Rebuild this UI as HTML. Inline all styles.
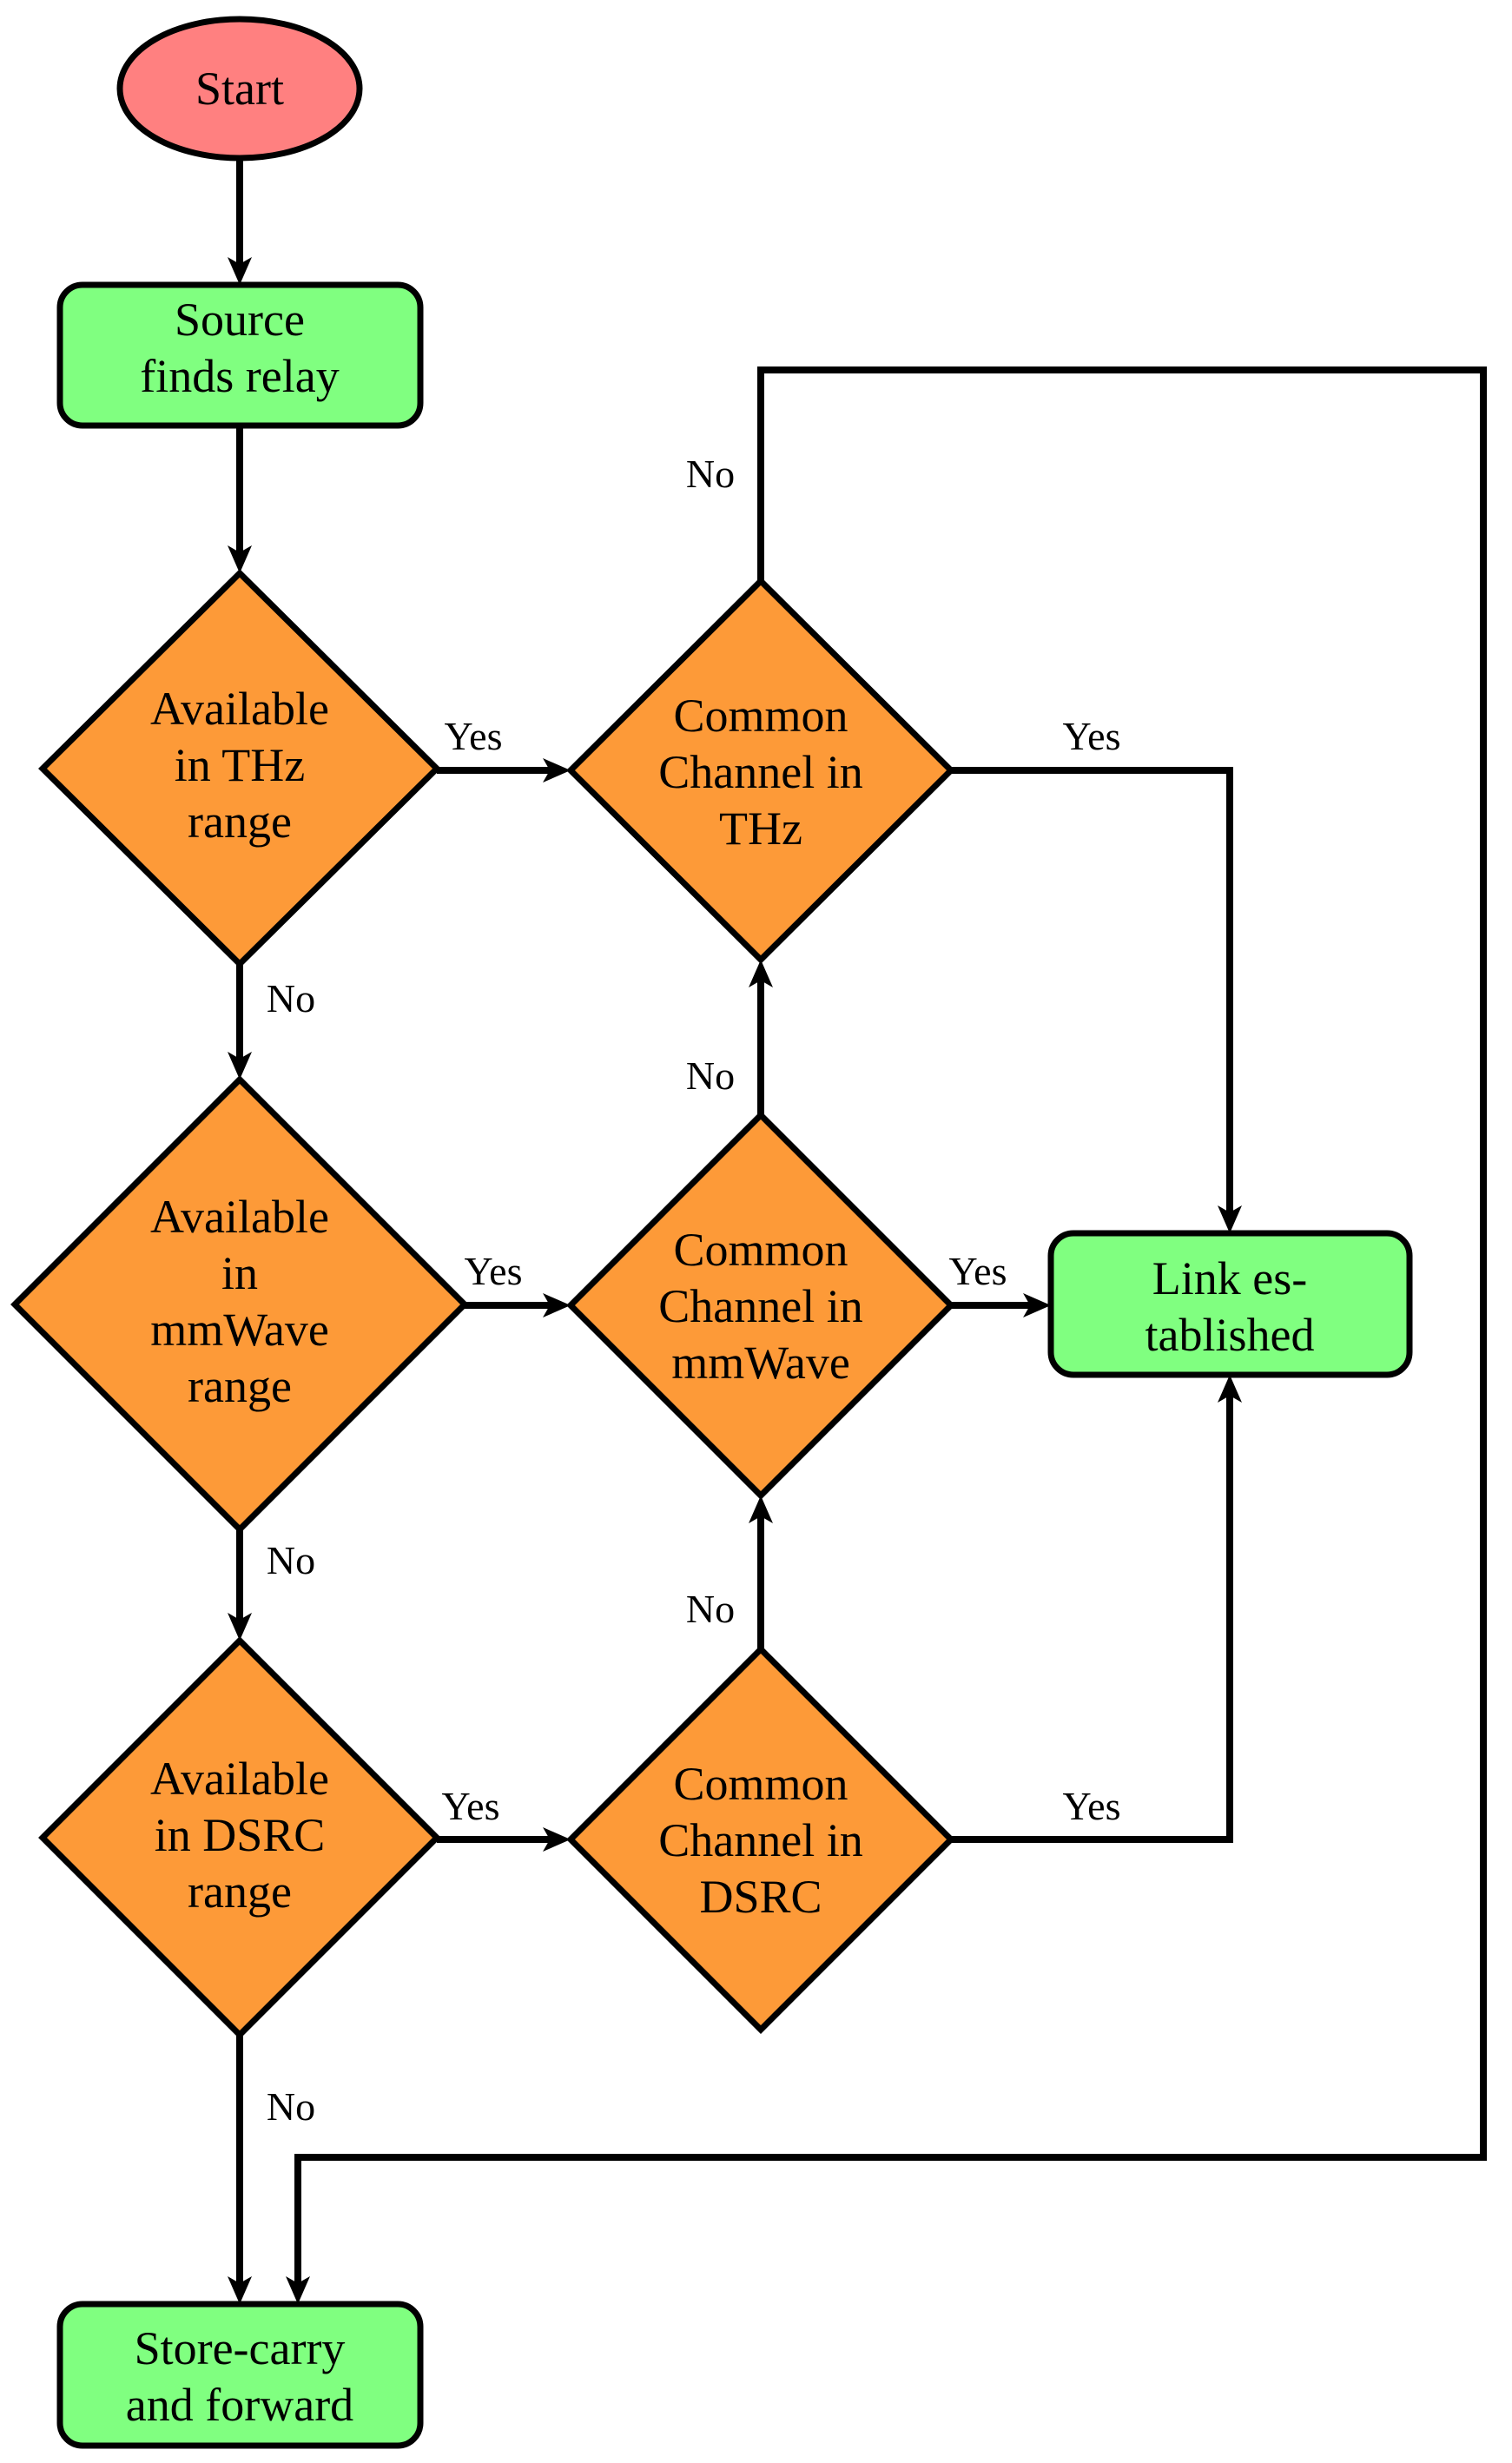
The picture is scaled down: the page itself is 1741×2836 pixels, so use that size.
<!DOCTYPE html>
<html><head><meta charset="utf-8"><style>
html,body{margin:0;padding:0;background:#fff;}
svg{display:block;}
text{font-family:"Liberation Serif",serif;fill:#000;}
.n{font-size:54px;text-anchor:middle;}
.l{font-size:46px;text-anchor:middle;}
</style></head><body>
<svg width="1741" height="2836" viewBox="0 0 1741 2836" xmlns="http://www.w3.org/2000/svg">
<defs>
<marker id="a" markerUnits="userSpaceOnUse" markerWidth="60" markerHeight="60" refX="0" refY="0" viewBox="-30 -30 60 60" orient="auto">
<path d="M22,0 L-10,-14 L-2,0 L-10,14 Z" fill="#000"/>
</marker>
</defs>
<g stroke="#000" stroke-width="8" fill="none" stroke-linejoin="miter">
<!-- Start to Source -->
<line x1="276" y1="182" x2="276" y2="306" marker-end="url(#a)"/>
<line x1="276" y1="490" x2="276" y2="638" marker-end="url(#a)"/>
<line x1="276" y1="1110" x2="276" y2="1221" marker-end="url(#a)"/>
<line x1="276" y1="1761" x2="276" y2="1867" marker-end="url(#a)"/>
<line x1="276" y1="2343" x2="276" y2="2631" marker-end="url(#a)"/>
<line x1="503" y1="887" x2="635" y2="887" marker-end="url(#a)"/>
<line x1="535" y1="1503" x2="635" y2="1503" marker-end="url(#a)"/>
<line x1="1095" y1="1503" x2="1188" y2="1503" marker-end="url(#a)"/>
<line x1="503" y1="2118" x2="635" y2="2118" marker-end="url(#a)"/>
<line x1="876" y1="1284" x2="876" y2="1127" marker-end="url(#a)"/>
<line x1="876" y1="1899" x2="876" y2="1744" marker-end="url(#a)"/>
<polyline points="1095,887 1416,887 1416,1398" marker-end="url(#a)"/>
<polyline points="1095,2118 1416,2118 1416,1605" marker-end="url(#a)"/>
<polyline points="876,669 876,426 1708,426 1708,2484 343,2484 343,2631" marker-end="url(#a)"/>
</g>
<g stroke="#000" stroke-width="7">
<ellipse cx="276" cy="102" rx="138" ry="80" fill="#ff8080"/>
<rect x="69" y="328" width="415" height="162" rx="26" fill="#80ff80"/>
<rect x="1210" y="1420" width="413" height="163" rx="26" fill="#80ff80"/>
<rect x="69" y="2653" width="415" height="163" rx="26" fill="#80ff80"/>
<polygon points="276,660 503,885 276,1110 49,885" fill="#fd9a38"/>
<polygon points="876,669 1095,887 876,1105 657,887" fill="#fd9a38"/>
<polygon points="276,1243 535,1502 276,1761 17,1502" fill="#fd9a38"/>
<polygon points="876,1284 1095,1503 876,1722 657,1503" fill="#fd9a38"/>
<polygon points="276,1889 503,2116 276,2343 49,2116" fill="#fd9a38"/>
<polygon points="876,1899 1095,2118 876,2337 657,2118" fill="#fd9a38"/>
</g>
<g class="n">
<text x="276" y="120" class="n">Start</text>
<text x="276" y="386" class="n">Source</text>
<text x="276" y="451" class="n">finds relay</text>
<text x="276" y="834" class="n">Available</text>
<text x="276" y="899" class="n">in THz</text>
<text x="276" y="964" class="n">range</text>
<text x="876" y="842" class="n">Common</text>
<text x="876" y="907" class="n">Channel in</text>
<text x="876" y="972" class="n">THz</text>
<text x="276" y="1419" class="n">Available</text>
<text x="276" y="1484" class="n">in</text>
<text x="276" y="1549" class="n">mmWave</text>
<text x="276" y="1614" class="n">range</text>
<text x="876" y="1457" class="n">Common</text>
<text x="876" y="1522" class="n">Channel in</text>
<text x="876" y="1587" class="n">mmWave</text>
<text x="1416" y="1490" class="n">Link es-</text>
<text x="1416" y="1555" class="n">tablished</text>
<text x="276" y="2066" class="n">Available</text>
<text x="276" y="2131" class="n">in DSRC</text>
<text x="276" y="2196" class="n">range</text>
<text x="876" y="2072" class="n">Common</text>
<text x="876" y="2137" class="n">Channel in</text>
<text x="876" y="2202" class="n">DSRC</text>
<text x="276" y="2722" class="n">Store-carry</text>
<text x="276" y="2787" class="n">and forward</text>
</g>
<g>
<text x="545" y="863" class="l">Yes</text>
<text x="818" y="561" class="l">No</text>
<text x="1257" y="863" class="l">Yes</text>
<text x="335" y="1165" class="l">No</text>
<text x="818" y="1254" class="l">No</text>
<text x="568" y="1479" class="l">Yes</text>
<text x="1126" y="1479" class="l">Yes</text>
<text x="335" y="1812" class="l">No</text>
<text x="818" y="1868" class="l">No</text>
<text x="542" y="2095" class="l">Yes</text>
<text x="1257" y="2095" class="l">Yes</text>
<text x="335" y="2441" class="l">No</text>
</g>
</svg>
</body></html>
